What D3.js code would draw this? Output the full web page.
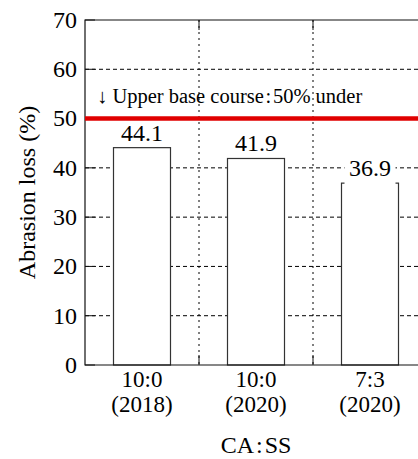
<!DOCTYPE html>
<html>
<head>
<meta charset="utf-8">
<script src="https://cdn.jsdelivr.net/npm/d3@7"></script>
<style>
  body { margin: 0; background: #fff; }
</style>
</head>
<body>
<svg id="chart" width="418" height="459"></svg>
<script>
// data
var ratios = ['10:0', '10:0', '7:3'];
var years = ['(2018)', '(2020)', '(2020)'];
var losses = [44.1, 41.9, 36.9];
var yTicks = [0, 10, 20, 30, 40, 50, 60, 70];
var limitValue = 50;
var limitText = '\u2193 Upper base course\u200a:\u200a50% under';

var serif = "'Liberation Serif'";
var margin = {top: 20, left: 85};
var plotW = 342, plotH = 345;

var svg = d3.select('#chart');
var g = svg.append('g').attr('transform', 'translate(' + margin.left + ',' + margin.top + ')');

var x = d3.scaleBand()
    .domain(d3.range(losses.length))
    .range([0, plotW])
    .paddingInner(0.5)
    .paddingOuter(0.25);

var y = d3.scaleLinear().domain([0, 70]).range([plotH, 0]);

var step = x.step();
var bounds = d3.range(1, losses.length).map(function(i) { return i * step; });

function label(sel, size) {
  return sel.style('font-family', serif).style('font-size', size).style('fill', '#000');
}

// horizontal grid
g.selectAll('line.hgrid')
  .data(yTicks.slice(1, -1))
  .enter().append('line')
  .attr('class', 'hgrid')
  .attr('x1', 0).attr('x2', plotW)
  .attr('y1', function(d) { return y(d); })
  .attr('y2', function(d) { return y(d); })
  .style('stroke', '#000')
  .style('stroke-width', 1)
  .style('stroke-dasharray', '4,3');

// vertical grid at category boundaries
g.selectAll('line.vgrid')
  .data(bounds)
  .enter().append('line')
  .attr('class', 'vgrid')
  .attr('x1', function(d) { return d; })
  .attr('x2', function(d) { return d; })
  .attr('y1', 0).attr('y2', plotH)
  .style('stroke', '#000')
  .style('stroke-width', 1)
  .style('stroke-dasharray', '2,4');

// bars
g.selectAll('rect.bar')
  .data(losses)
  .enter().append('rect')
  .attr('class', 'bar')
  .attr('x', function(d, i) { return x(i); })
  .attr('y', function(d) { return y(d); })
  .attr('width', x.bandwidth())
  .attr('height', function(d) { return plotH - y(d); })
  .style('fill', '#fff')
  .style('stroke', '#333')
  .style('stroke-width', 1.2);

// value labels; a white knock-out box when the label crosses a grid line
var labels = g.selectAll('g.val')
  .data(losses)
  .enter().append('g')
  .attr('class', 'val');

labels.each(function(d, i) {
  var base = y(d) - 7;
  var top = base - 17;
  var crosses = yTicks.some(function(t) { return y(t) > top && y(t) < base + 4; });
  if (crosses) {
    d3.select(this).append('rect')
      .attr('x', x(i) + 3)
      .attr('y', top - 1)
      .attr('width', x.bandwidth() - 6)
      .attr('height', y(d) + 3 - top)
      .style('fill', '#fff');
  }
  label(d3.select(this).append('text'), '24px')
    .attr('x', x(i) + x.bandwidth() / 2)
    .attr('y', base)
    .attr('text-anchor', 'middle')
    .text(d.toFixed(1));
});

// frame
g.append('path')
  .attr('d', 'M' + plotW + ',0H0V' + plotH + 'H' + plotW)
  .style('fill', 'none')
  .style('stroke', '#111')
  .style('stroke-width', 1.2);

// inward ticks
g.selectAll('line.ytick')
  .data(yTicks)
  .enter().append('line')
  .attr('x1', 0).attr('x2', 10)
  .attr('y1', function(d) { return y(d); })
  .attr('y2', function(d) { return y(d); })
  .style('stroke', '#111');

bounds.forEach(function(b) {
  g.append('line').attr('x1', b).attr('x2', b).attr('y1', plotH).attr('y2', plotH - 10).style('stroke', '#111');
  g.append('line').attr('x1', b).attr('x2', b).attr('y1', 0).attr('y2', 10).style('stroke', '#111');
});

// limit line
g.append('line')
  .attr('x1', 0).attr('x2', plotW)
  .attr('y1', y(limitValue)).attr('y2', y(limitValue))
  .style('stroke', '#e00000')
  .style('stroke-width', 4.5);

label(g.append('text'), '20.5px')
  .attr('x', 12)
  .attr('y', y(limitValue) - 15.5)
  .text(limitText);

// y tick labels
label(g.selectAll('text.ylab')
  .data(yTicks)
  .enter().append('text'), '24px')
  .attr('x', -8)
  .attr('y', function(d) { return y(d); })
  .attr('dy', '0.33em')
  .attr('text-anchor', 'end')
  .text(function(d) { return d; });

// category labels
var cat = label(g.selectAll('text.cat')
  .data(ratios)
  .enter().append('text'), '23px')
  .attr('text-anchor', 'middle');
cat.append('tspan')
  .attr('x', function(d, i) { return x(i) + x.bandwidth() / 2; })
  .attr('y', plotH + 22)
  .text(function(d) { return d; });
cat.append('tspan')
  .attr('x', function(d, i) { return x(i) + x.bandwidth() / 2; })
  .attr('y', plotH + 47)
  .text(function(d, i) { return years[i]; });

// axis titles
label(g.append('text'), '24px')
  .attr('x', plotW / 2)
  .attr('y', plotH + 88)
  .attr('text-anchor', 'middle')
  .text('CA\u200a:\u200aSS');

label(g.append('text'), '24px')
  .attr('transform', 'translate(' + (-50) + ',' + (plotH / 2) + ') rotate(-90)')
  .attr('text-anchor', 'middle')
  .text('Abrasion loss (%)');
</script>
</body>
</html>
